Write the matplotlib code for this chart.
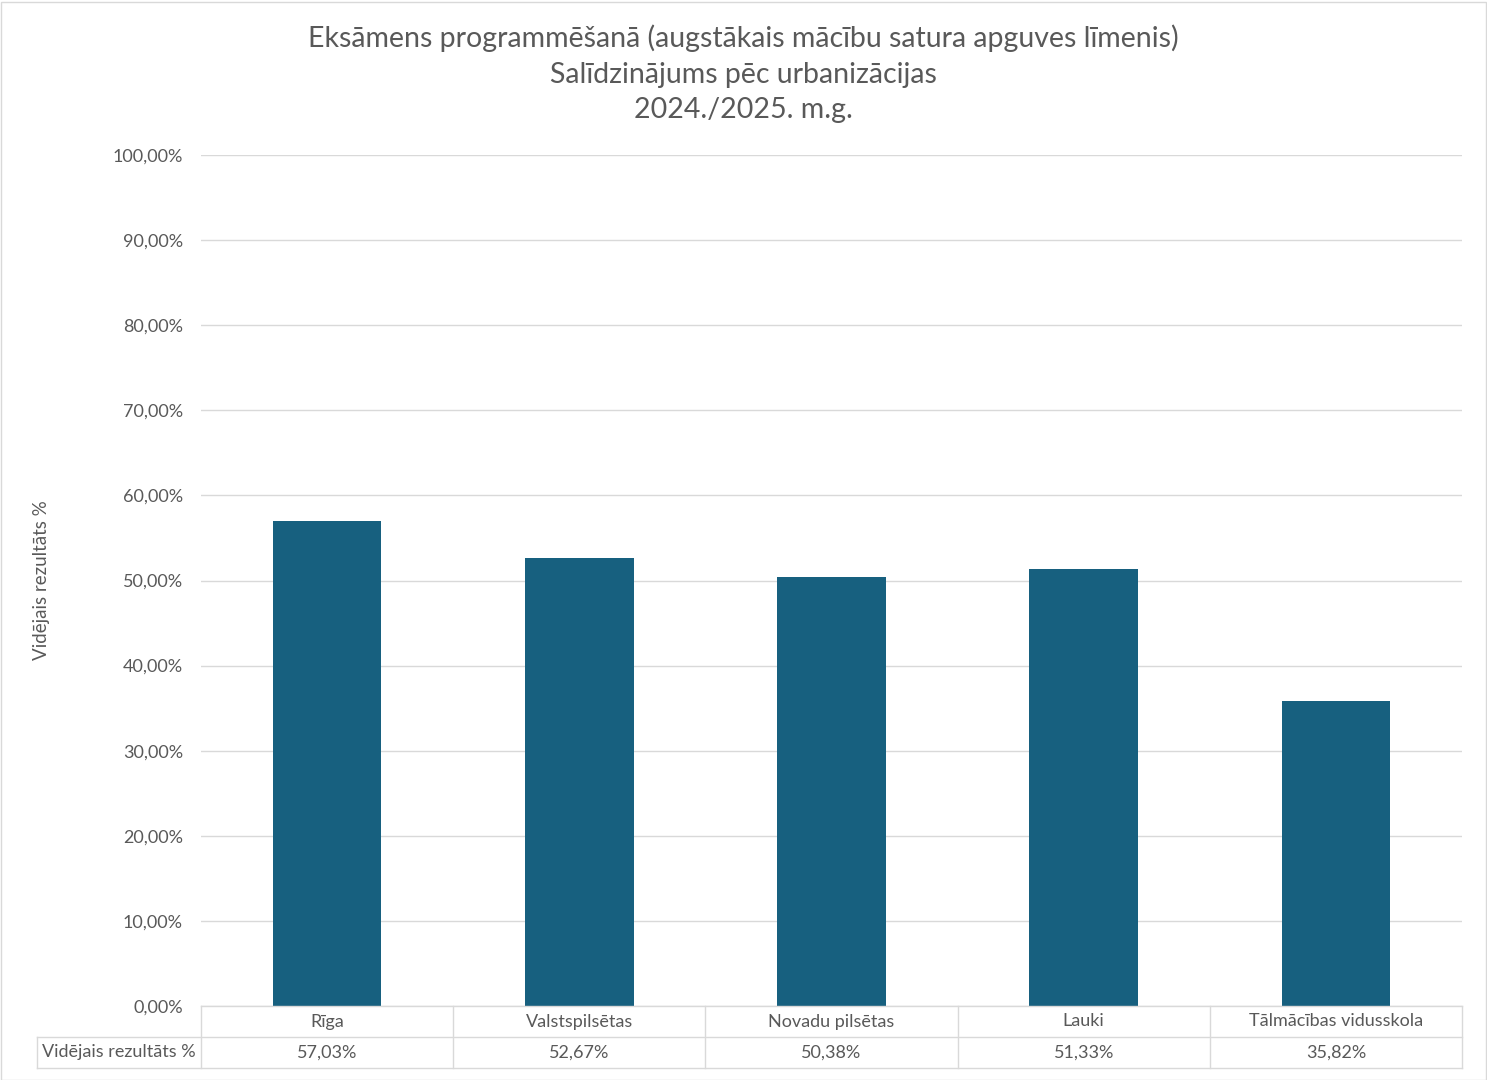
import matplotlib.pyplot as plt
import numpy as np

categories = ["Rīga", "Valstspilsētas", "Novadu pilsētas", "Lauki", "Tālmācības vidusskola"]
values = [57.03, 52.67, 50.38, 51.33, 35.82]
series_name = "Vidējais rezultāts %"
title = ("Eksāmens programmēšanā (augstākais mācību satura apguves līmenis)\n"
         "Salīdzinājums pēc urbanizācijas\n2024./2025. m.g.")

plt.rcParams['font.family'] = ['Lato', 'DejaVu Sans']
txt = "#595959"
grid = "#D9D9D9"
bar_color = "#17607F"

W, H = 1487, 1080
fig = plt.figure(figsize=(W / 100, H / 100), dpi=100)

# plot area in pixels
left, right, top, bottom = 201, 1462, 155, 1006
row_h = 31
ax = fig.add_axes([left / W, 1 - bottom / H, (right - left) / W, (bottom - top) / H])

x = np.arange(len(categories))
ax.bar(x, values, width=0.43, color=bar_color, zorder=3)
ax.set_xlim(-0.5, len(categories) - 0.5)
ax.set_ylim(0, 100)
ax.set_yticks(np.arange(0, 101, 10))
ax.set_yticklabels([f"{v:.2f}%".replace(".", ",") for v in np.arange(0, 101, 10)])
ax.tick_params(axis='y', length=0, pad=13, labelsize=13, labelcolor=txt)
ax.set_xticks([])
ax.grid(axis='y', color=grid, linewidth=1, zorder=0)
for s in ax.spines.values():
    s.set_visible(False)

fig.text(42 / W, 1 - 580 / H, series_name, rotation=90, ha='center', va='center', fontsize=13.5, color=txt)

# data table below the plot
tab = fig.add_axes([left / W, 1 - (bottom + 2 * row_h) / H, (right - left) / W, 2 * row_h / H])
tab.set_xlim(-0.5, len(categories) - 0.5)
tab.set_ylim(0, 2)
tab.axis('off')
lw = 1
label_left = -0.5 - (left - 37) / ((right - left) / len(categories))
tab.plot([-0.5, len(categories) - 0.5], [2, 2], color=grid, lw=lw, clip_on=False)
tab.plot([label_left, len(categories) - 0.5], [1, 1], color=grid, lw=lw, clip_on=False)
tab.plot([label_left, len(categories) - 0.5], [0, 0], color=grid, lw=lw, clip_on=False)
tab.plot([label_left, label_left], [0, 1], color=grid, lw=lw, clip_on=False)
for i in range(len(categories) + 1):
    tab.plot([i - 0.5, i - 0.5], [0, 2], color=grid, lw=lw, clip_on=False)
for i, (c, v) in enumerate(zip(categories, values)):
    tab.text(i, 1.5, c, ha='center', va='center', fontsize=13, color=txt)
    tab.text(i, 0.5, f"{v:.2f}%".replace(".", ","), ha='center', va='center', fontsize=13, color=txt)
tab.text((label_left - 0.5) / 2, 0.5, series_name, ha='center', va='center', fontsize=13, color=txt, clip_on=False)

fig.text(0.5, 1 - 74 / H, title, ha='center', va='center', fontsize=20.5, color=txt, linespacing=1.45)

# chart border
fig.patches.append(plt.Rectangle((0.5 / W, 0.5 / H), 1 - 2 / W, 1 - 2 / H, transform=fig.transFigure,
                                 fill=False, edgecolor=grid, lw=1))

fig.savefig("out.png", dpi=100)
